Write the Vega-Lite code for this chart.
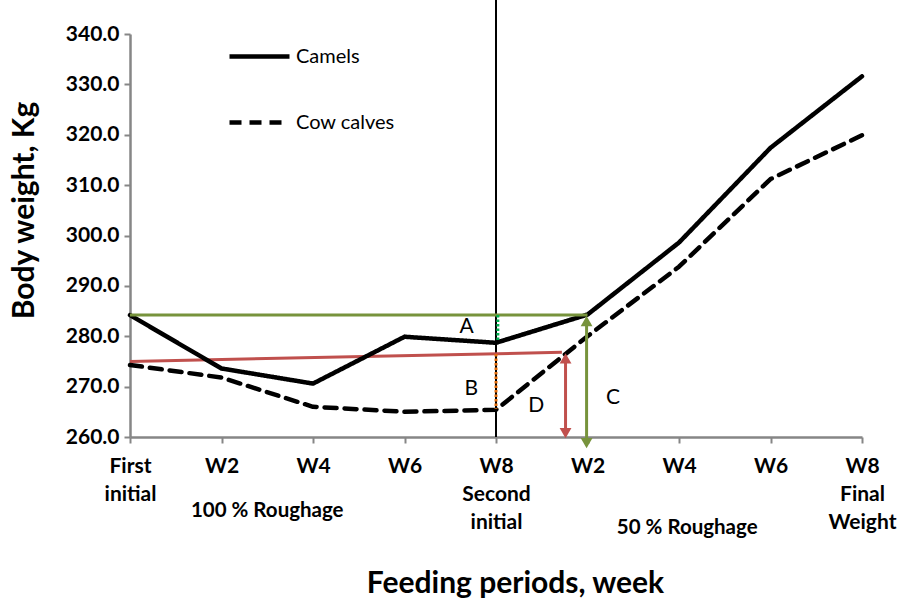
{
  "$schema": "https://vega.github.io/schema/vega-lite/v6.json",
  "width": 732,
  "height": 403,
  "autosize": {"type": "none"},
  "padding": {"left": 130, "top": 34, "right": 42, "bottom": 163},
  "config": {
    "view": {"stroke": null},
    "font": "Lato",
    "axis": {
      "grid": false,
      "domainColor": "#868686",
      "domainWidth": 2.5,
      "tickColor": "#868686",
      "tickWidth": 2,
      "tickSize": 6,
      "labelFont": "Lato",
      "labelFontWeight": "bold",
      "labelFontSize": 21,
      "labelColor": "black",
      "titleFont": "Lato",
      "titleFontWeight": "bold",
      "titleFontSize": 30,
      "titleColor": "black"
    },
    "legend": {
      "labelFont": "Lato",
      "labelFontSize": 20,
      "labelColor": "black"
    }
  },
  "data": {
    "values": [
      {"x": 0, "y": 284.2, "series": "Camels"},
      {"x": 1, "y": 273.6, "series": "Camels"},
      {"x": 2, "y": 270.6, "series": "Camels"},
      {"x": 3, "y": 279.9, "series": "Camels"},
      {"x": 4, "y": 278.7, "series": "Camels"},
      {"x": 5, "y": 284.3, "series": "Camels"},
      {"x": 6, "y": 298.6, "series": "Camels"},
      {"x": 7, "y": 317.4, "series": "Camels"},
      {"x": 8, "y": 331.6, "series": "Camels"},
      {"x": 0, "y": 274.3, "series": "Cow calves"},
      {"x": 1, "y": 271.8, "series": "Cow calves"},
      {"x": 2, "y": 266.0, "series": "Cow calves"},
      {"x": 3, "y": 265.0, "series": "Cow calves"},
      {"x": 4, "y": 265.4, "series": "Cow calves"},
      {"x": 5, "y": 280.0, "series": "Cow calves"},
      {"x": 6, "y": 293.8, "series": "Cow calves"},
      {"x": 7, "y": 311.2, "series": "Cow calves"},
      {"x": 8, "y": 319.9, "series": "Cow calves"}
    ]
  },
  "encoding": {
    "x": {
      "field": "x",
      "type": "quantitative",
      "scale": {"domain": [0, 8], "nice": false, "zero": false},
      "axis": {
        "title": "Feeding periods, week",
        "values": [0, 1, 2, 3, 4, 5, 6, 7, 8],
        "labelExpr": "[['First','initial'],'W2','W4','W6',['W8','Second','initial'],'W2','W4','W6',['W8','Final','Weight']][datum.value]",
        "labelLineHeight": 28,
        "labelPadding": 12,
        "labelBaseline": "top",
        "labelFlush": false,
        "labelOverlap": false,
        "titleX": 385,
        "titleY": 146,
        "titleBaseline": "middle",
        "titleAnchor": "middle"
      }
    },
    "y": {
      "field": "y",
      "type": "quantitative",
      "scale": {"domain": [260, 340], "nice": false, "zero": false},
      "axis": {
        "title": "Body weight, Kg",
        "values": [260, 270, 280, 290, 300, 310, 320, 330, 340],
        "format": ".1f",
        "labelPadding": 5,
        "titleX": -106,
        "titleY": 176,
        "titleAngle": 270,
        "titleAlign": "center",
        "titleBaseline": "middle"
      }
    }
  },
  "layer": [
    {
      "data": {"values": [{"x": 4, "y": 260, "y2": 347}]},
      "mark": {"type": "rule", "color": "black", "strokeWidth": 2},
      "encoding": {"y2": {"field": "y2"}}
    },
    {
      "data": {"values": [{"x": 0, "x2": 4.72, "y": 275.0, "y2": 276.8}]},
      "mark": {"type": "rule", "color": "#C0504D", "strokeWidth": 3},
      "encoding": {"x2": {"field": "x2"}, "y2": {"field": "y2"}}
    },
    {
      "mark": {"type": "line", "color": "black", "strokeWidth": 4.5, "strokeCap": "round", "strokeJoin": "round"},
      "encoding": {
        "strokeDash": {
          "field": "series",
          "type": "nominal",
          "scale": {"domain": ["Camels", "Cow calves"], "range": [[1, 0], [12, 8]]},
          "legend": {
            "title": null,
            "orient": "none",
            "legendX": 97,
            "legendY": -10,
            "symbolType": "stroke",
            "symbolSize": 3600,
            "symbolStrokeWidth": 4.5,
            "symbolStrokeColor": "black",
            "labelOffset": 4,
            "rowPadding": 23,
            "padding": 0
          }
        }
      }
    },
    {
      "data": {"values": [{"x": 0, "x2": 5, "y": 284.2}]},
      "mark": {"type": "rule", "color": "#77933C", "strokeWidth": 3},
      "encoding": {"x2": {"field": "x2"}}
    },
    {
      "data": {"values": [{"x": 4.02, "y": 284.2, "y2": 278.9}]},
      "mark": {"type": "rule", "color": "#00B050", "strokeWidth": 3, "strokeDash": [2.5, 2]},
      "encoding": {"y2": {"field": "y2"}}
    },
    {
      "data": {"values": [{"x": 4.0, "y": 276.5, "y2": 265.6}]},
      "mark": {"type": "rule", "color": "#E46C0A", "strokeWidth": 3, "strokeDash": [2.5, 2]},
      "encoding": {"y2": {"field": "y2"}}
    },
    {
      "data": {"values": [
        {"x": 4.76, "y": 275.5, "y2": 261.5, "arrow": "D"},
        {"x": 4.99, "y": 283.0, "y2": 259.5, "arrow": "C"}
      ]},
      "mark": {"type": "rule", "strokeWidth": 3},
      "encoding": {
        "y2": {"field": "y2"},
        "color": {"field": "arrow", "type": "nominal", "scale": {"domain": ["D", "C"], "range": ["#C0504D", "#77933C"]}, "legend": null}
      }
    },
    {
      "data": {"values": [
        {"x": 4.76, "y": 276.8, "arrow": "D"},
        {"x": 4.99, "y": 284.2, "arrow": "C"}
      ]},
      "mark": {"type": "point", "shape": "triangle-up", "filled": true, "opacity": 1, "size": 140, "yOffset": 6},
      "encoding": {
        "color": {"field": "arrow", "type": "nominal", "scale": {"domain": ["D", "C"], "range": ["#C0504D", "#77933C"]}, "legend": null}
      }
    },
    {
      "data": {"values": [
        {"x": 4.76, "y": 259.6, "arrow": "D"},
        {"x": 4.99, "y": 257.6, "arrow": "C"}
      ]},
      "mark": {"type": "point", "shape": "triangle-down", "filled": true, "opacity": 1, "size": 140, "yOffset": -6},
      "encoding": {
        "color": {"field": "arrow", "type": "nominal", "scale": {"domain": ["D", "C"], "range": ["#C0504D", "#77933C"]}, "legend": null}
      }
    },
    {
      "data": {"values": [
        {"x": 3.68, "y": 281.8, "t": "A"},
        {"x": 3.73, "y": 269.5, "t": "B"},
        {"x": 4.44, "y": 266.2, "t": "D"},
        {"x": 5.28, "y": 267.8, "t": "C"}
      ]},
      "mark": {"type": "text", "font": "Lato", "fontSize": 21, "color": "black", "baseline": "middle", "align": "center"},
      "encoding": {"text": {"field": "t"}}
    },
    {
      "data": {"values": [
        {"x": 1.5, "y": 245.4, "t": "100 % Roughage"},
        {"x": 6.09, "y": 241.85, "t": "50 % Roughage"}
      ]},
      "mark": {"type": "text", "font": "Lato", "fontSize": 20.5, "fontWeight": "bold", "color": "black", "baseline": "middle", "align": "center"},
      "encoding": {"text": {"field": "t"}}
    }
  ]
}
